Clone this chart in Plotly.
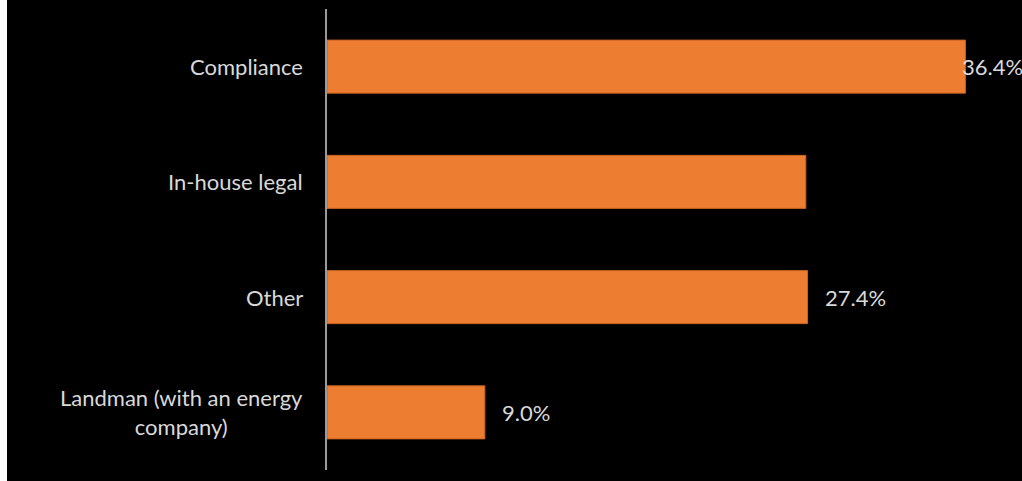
import plotly.graph_objects as go

categories = ["Compliance", "In-house legal", "Other", "Landman (with an energy<br>company)"]
values = [36.4, 27.3, 27.4, 9.0]
labels = ["36.4%", "", "27.4%", "9.0%"]

W, H = 1022, 481
left, right, top, bottom = 327, 11, 9, 11
pw = W - left - right
ph = H - top - bottom
FONT = "Lato, Open Sans, sans-serif"

fig = go.Figure()
fig.add_trace(go.Bar(
    y=categories, x=values, orientation="h",
    marker=dict(color="#ED7D31", line=dict(color="#C8631F", width=1)),
    width=0.46, hoverinfo="skip",
))

# value labels
for c, v, t in zip(categories, values, labels):
    if not t:
        continue
    shift = -5 if v > 35 else 15
    fig.add_annotation(x=v, y=c, xref="x", yref="y", text=t, showarrow=False,
                       xanchor="left", xshift=shift,
                       font=dict(family=FONT, size=22, color="#D9D9D9"))

# category labels (centered multi-line)
for c in categories:
    fig.add_annotation(x=0, y=c, xref="paper", yref="y", text=c, showarrow=False,
                       xanchor="right", xshift=-22, align="center",
                       font=dict(family=FONT, size=22, color="#D9D9D9"))

# black background panel with white strip at the left
fig.add_shape(type="rect", xref="paper", yref="paper",
              x0=(7 - left) / pw, x1=(W - left) / pw,
              y0=-(bottom + 2) / ph, y1=1 + top / ph,
              fillcolor="black", line=dict(width=0), layer="below")

fig.update_layout(
    width=W, height=H,
    margin=dict(l=left, r=right, t=top, b=bottom),
    paper_bgcolor="white", plot_bgcolor="rgba(0,0,0,0)",
    showlegend=False, bargap=0.54,
    xaxis=dict(range=[0, 39], visible=False, fixedrange=True),
    yaxis=dict(autorange="reversed", showticklabels=False, showgrid=False,
               zeroline=False, showline=True, linecolor="#9A9A9A", linewidth=2,
               ticks="", fixedrange=True),
)

fig.write_html("out.html", config={"displayModeBar": False},
               post_script="document.body.style.margin='0';document.body.style.overflow='hidden';")
